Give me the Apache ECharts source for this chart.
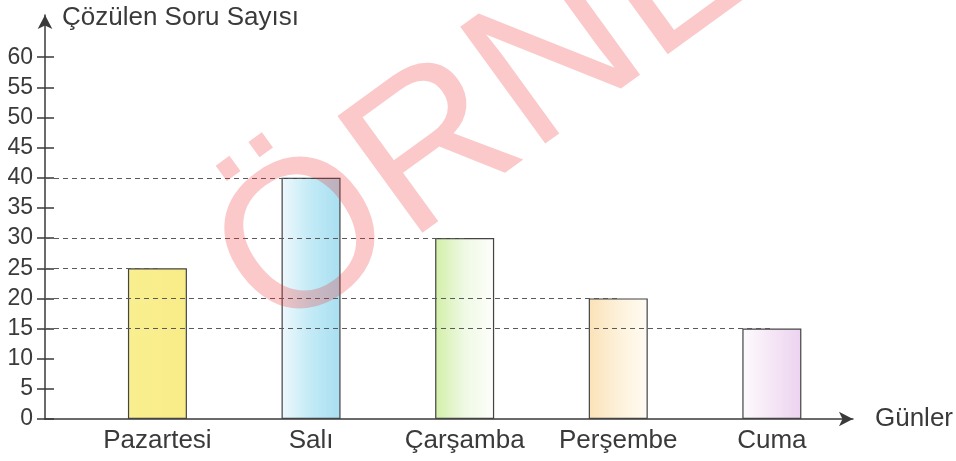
<!DOCTYPE html>
<html>
<head>
<meta charset="utf-8">
<script src="https://cdn.jsdelivr.net/npm/echarts@6/dist/echarts.min.js"></script>
<style>
  html, body { margin: 0; padding: 0; background: #fff; }
  #chart { width: 956px; height: 461px; }
</style>
</head>
<body>
<div id="chart"></div>
<script>
const days = ['Pazartesi', 'Salı', 'Çarşamba', 'Perşembe', 'Cuma'];
const solved = [25, 40, 30, 20, 15];
const yTicks = [0, 5, 10, 15, 20, 25, 30, 35, 40, 45, 50, 55, 60];
const dayIndex = [0, 1, 2, 3, 4];

// bar fill gradients, left -> right
const barColors = [
  ['#faef90', '#f8ec88'],
  ['#eef8fc', '#c2eaf6', '#a8dff1'],
  ['#d2efa8', '#eff9e4', '#fefefb'],
  ['#fbe2b8', '#fdf1da', '#fffbf3'],
  ['#fdfbfd', '#f5e6f6', '#ecd3f0']
];

const font = '"Liberation Sans", Arial, sans-serif';
const textColor = '#3a3a3a';
const xMin = -0.732;
const xMax = 4.528;

const gradient = stops => new echarts.graphic.LinearGradient(0, 0, 1, 0,
  stops.map((c, i) => ({ offset: i / (stops.length - 1), color: c })));

const myChart = echarts.init(document.getElementById('chart'));

const yAxisBase = {
  type: 'value',
  min: 0,
  max: 67,
  interval: 5,
  splitLine: { show: false }
};

const option = {
  backgroundColor: '#fff',
  animation: false,
  grid: { left: 45, right: 103, top: 15, bottom: 42 },
  xAxis: {
    type: 'value',
    min: xMin,
    max: xMax,
    name: 'Günler',
    nameLocation: 'end',
    nameGap: 22,
    nameTextStyle: { fontFamily: font, fontSize: 26, color: textColor, verticalAlign: 'middle' },
    axisLine: {
      onZero: false,
      lineStyle: { color: textColor, width: 1.5 },
      symbol: ['none', 'arrow'],
      symbolSize: [11, 14]
    },
    axisTick: { show: false },
    splitLine: { show: false },
    axisLabel: {
      customValues: dayIndex,
      formatter: v => days[Math.round(v)],
      fontFamily: font,
      fontSize: 26,
      color: textColor,
      margin: 9
    }
  },
  yAxis: [
    Object.assign({}, yAxisBase, {
      name: 'Çözülen Soru Sayısı',
      nameLocation: 'end',
      nameGap: -3,
      nameTextStyle: {
        fontFamily: font, fontSize: 26, color: textColor,
        align: 'left', verticalAlign: 'middle', padding: [0, 0, 0, 17]
      },
      axisLine: {
        show: true,
        onZero: false,
        lineStyle: { color: textColor, width: 1.5 },
        symbol: ['none', 'arrow'],
        symbolSize: [11, 14]
      },
      axisTick: { show: true, customValues: yTicks, length: 8, lineStyle: { color: textColor, width: 1.5 } },
      axisLabel: { customValues: yTicks, fontFamily: font, fontSize: 23, color: textColor, margin: 12 }
    }),
    Object.assign({}, yAxisBase, {
      position: 'left',
      axisLine: { show: false, onZero: false },
      axisTick: { show: true, inside: true, customValues: yTicks, length: 9, lineStyle: { color: textColor, width: 1.5 } },
      axisLabel: { show: false }
    })
  ],
  series: [
    {
      name: 'guide',
      type: 'line',
      z: 1,
      silent: true,
      symbol: 'none',
      lineStyle: { opacity: 0 },
      data: solved.map((v, i) => [i, v]),
      markLine: {
        silent: true,
        symbol: ['none', 'none'],
        label: { show: false },
        lineStyle: { type: [5, 4], color: '#5a5a5a', width: 1 },
        data: solved.map((v, i) => [{ coord: [xMin, v] }, { coord: [i, v] }])
      }
    },
    {
      name: 'Çözülen Soru Sayısı',
      type: 'bar',
      z: 3,
      barWidth: 59,
      data: solved.map((v, i) => ({
        value: [i, v],
        itemStyle: { color: gradient(barColors[i]) }
      })),
      itemStyle: { borderColor: '#444', borderWidth: 1.2 }
    }
  ],
  graphic: {
    zlevel: 1,
    z: 100,
    elements: [
      {
        type: 'text',
        x: 304,
        y: 377,
        rotation: 36 * Math.PI / 180,
        zlevel: 1,
        z: 100,
        silent: true,
        style: {
          text: 'ÖRNEK',
          font: '210px "Liberation Sans", Arial, sans-serif',
          fill: 'rgba(238, 40, 40, 0.25)',
          textAlign: 'left',
          textVerticalAlign: 'bottom'
        }
      }
    ]
  }
};

myChart.setOption(option);
window.addEventListener('resize', () => myChart.resize());
</script>
</body>
</html>
